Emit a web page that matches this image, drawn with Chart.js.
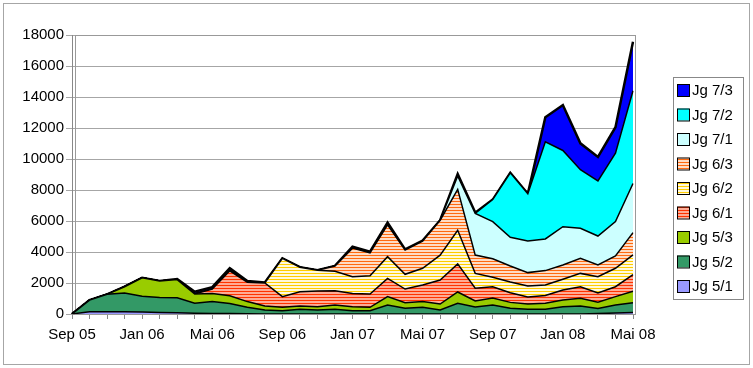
<!DOCTYPE html>
<html>
<head>
<meta charset="utf-8">
<script src="https://cdn.jsdelivr.net/npm/chart.js@4.4.1/dist/chart.umd.min.js"></script>
<style>
  html, body { margin: 0; padding: 0; background: #fff; }
  #wrap { width: 753px; height: 368px; }
</style>
</head>
<body>
<div id="wrap"><canvas id="chart" width="753" height="368"></canvas></div>
<script>
// Monatsreihe Sep 05 .. Mai 08
const months = [
    "Sep 05", "Okt 05", "Nov 05", "Dez 05",
    "Jan 06", "Feb 06", "Mrz 06", "Apr 06",
    "Mai 06", "Jun 06", "Jul 06", "Aug 06",
    "Sep 06", "Okt 06", "Nov 06", "Dez 06",
    "Jan 07", "Feb 07", "Mrz 07", "Apr 07",
    "Mai 07", "Jun 07", "Jul 07", "Aug 07",
    "Sep 07", "Okt 07", "Nov 07", "Dez 07",
    "Jan 08", "Feb 08", "Mrz 08", "Apr 08",
    "Mai 08",
];

const jg51 = [0, 150, 150, 150, 130, 100, 80, 50, 40, 30, 10, 0, 0, 0, 0, 0, 0, 0, 0, 0, 0, 0, 0, 0, 0, 0, 0, 0, 0, 0, 30, 60, 100];
const jg52 = [0, 750, 1120, 1200, 1020, 970, 970, 640, 760, 650, 420, 260, 215, 300, 260, 300, 215, 215, 580, 370, 430, 260, 690, 450, 580, 370, 300, 300, 470, 515, 320, 520, 630];
const jg53 = [0, 0, 0, 410, 1190, 1060, 1170, 600, 530, 500, 370, 255, 215, 215, 210, 280, 255, 215, 540, 360, 370, 385, 730, 390, 450, 380, 345, 390, 430, 495, 415, 540, 740];
const jg61 = [0, 0, 0, 0, 0, 0, 0, 0, 270, 1610, 1250, 1485, 690, 925, 1010, 920, 860, 860, 1180, 880, 1070, 1545, 1810, 820, 730, 620, 455, 510, 650, 750, 590, 640, 1070];
const jg62 = [0, 0, 0, 0, 0, 0, 0, 0, 0, 0, 0, 0, 2470, 1580, 1340, 1260, 1080, 1180, 1400, 950, 1080, 1610, 2170, 960, 610, 690, 700, 670, 690, 860, 1055, 1190, 1270];
const jg63 = [0, 0, 0, 0, 0, 0, 0, 0, 0, 0, 0, 0, 0, 0, 0, 340, 1840, 1480, 2050, 1570, 1750, 2250, 2640, 1180, 1190, 1040, 870, 930, 920, 970, 750, 790, 1440];
const jg71 = [0, 0, 0, 0, 0, 0, 0, 0, 0, 0, 0, 0, 0, 0, 0, 0, 0, 0, 0, 0, 0, 0, 860, 2690, 2400, 1850, 2040, 2040, 2470, 1940, 1870, 2220, 3170];
const jg72 = [0, 0, 0, 0, 0, 0, 0, 0, 0, 0, 0, 0, 0, 0, 0, 0, 0, 0, 0, 0, 0, 0, 0, 0, 1420, 4160, 3050, 6270, 4920, 3780, 3560, 4420, 5980];
const jg73 = [0, 0, 0, 0, 0, 0, 40, 150, 130, 160, 80, 40, 0, 0, 0, 0, 90, 70, 140, 40, 30, 0, 130, 50, 0, 0, 0, 1580, 2930, 1700, 1540, 1670, 3160];

const yMax = 18000;
const yStep = 2000;

// horizontal stripes, 3px period
function stripes(line, bg) {
    const c = document.createElement("canvas");
    c.width = 4;
    c.height = 3;
    const g = c.getContext("2d");
    g.fillStyle = bg;
    g.fillRect(0, 0, 4, 3);
    g.fillStyle = line;
    g.fillRect(0, 0, 4, 1);
    return g.createPattern(c, "repeat");
}

const font = "'Liberation Sans', Arial, sans-serif";

const series = [
    { label: "Jg 5/1", data: jg51, bg: "#9999ff" },
    { label: "Jg 5/2", data: jg52, bg: "#339966" },
    { label: "Jg 5/3", data: jg53, bg: "#99cc00" },
    { label: "Jg 6/1", data: jg61, bg: stripes("#ff3300", "#ffab94") },
    { label: "Jg 6/2", data: jg62, bg: stripes("#ffcc00", "#fff9dc") },
    { label: "Jg 6/3", data: jg63, bg: stripes("#ff6a10", "#ffdcc4") },
    { label: "Jg 7/1", data: jg71, bg: "#ccffff" },
    { label: "Jg 7/2", data: jg72, bg: "#00ffff" },
    { label: "Jg 7/3", data: jg73, bg: "#0000ff" },
];

const datasets = series.map((s, i) => ({
    label: s.label,
    data: s.data,
    backgroundColor: s.bg,
    borderColor: "#000",
    borderWidth: i === series.length - 1 ? 2.5 : 1.5,
    pointRadius: 0,
    tension: 0,
    fill: i === 0 ? "origin" : "-1",
}));

const frame = {
    id: "frame",
    beforeDraw(chart) {
        const c = chart.ctx;
        c.save();
        c.fillStyle = "#fff";
        c.fillRect(0, 0, chart.width, chart.height);
        c.strokeStyle = "#a6a6a6";
        c.lineWidth = 1;
        c.strokeRect(3.5, 3.5, 746, 361);
        c.restore();
    },
    beforeDatasetsDraw(chart) {
        const a = chart.chartArea;
        const c = chart.ctx;
        c.save();
        c.strokeStyle = "#999";
        c.lineWidth = 1;
        c.strokeRect(a.left + 3.5, a.top + 0.5, a.right - a.left - 1, a.bottom - a.top);
        c.restore();
    },
    afterDraw(chart) {
        const c = chart.ctx;
        const bx = 673, by = 77, bw = 70, bh = 222;
        c.save();
        c.fillStyle = "#fff";
        c.fillRect(bx, by, bw, bh);
        c.strokeStyle = "#888";
        c.lineWidth = 1;
        c.strokeRect(bx + 0.5, by + 0.5, bw, bh);
        c.font = "15px " + font;
        c.textBaseline = "middle";
        const ds = chart.data.datasets.slice().reverse();
        ds.forEach((d, k) => {
            const cy = 90 + k * 24.5;
            c.fillStyle = d.backgroundColor;
            c.fillRect(677, cy - 6, 12, 12);
            c.strokeStyle = "#000";
            c.lineWidth = 1;
            c.strokeRect(677.5, cy - 5.5, 12, 12);
            c.fillStyle = "#000";
            c.fillText(d.label, 692, cy + 1);
        });
        c.restore();
    },
};

new Chart(document.getElementById("chart"), {
    type: "line",
    data: { labels: months, datasets: datasets },
    plugins: [frame],
    options: {
        responsive: false,
        animation: false,
        layout: { padding: { top: 35, right: 120, left: 0, bottom: 0 } },
        plugins: {
            legend: { display: false },
            tooltip: { enabled: false },
        },
        scales: {
            x: {
                offset: false,
                grid: { drawOnChartArea: false, tickLength: 5, color: "#888" },
                border: { color: "#888" },
                ticks: {
                    autoSkip: false,
                    maxRotation: 0,
                    padding: 7,
                    color: "#000",
                    font: { family: font, size: 15 },
                    callback: (v, i) => (i % 4 === 0 ? months[i] : ""),
                },
                afterFit: (s) => { s.height = 54; },
            },
            y: {
                stacked: true,
                min: 0,
                max: yMax,
                grid: { color: "#a6a6a6", tickLength: 6 },
                border: { color: "#888" },
                ticks: {
                    stepSize: yStep,
                    padding: 2,
                    color: "#000",
                    font: { family: font, size: 15 },
                    callback: (v) => String(v),
                },
                afterFit: (s) => { s.width = 72; },
            },
        },
    },
});
</script>
</body>
</html>
